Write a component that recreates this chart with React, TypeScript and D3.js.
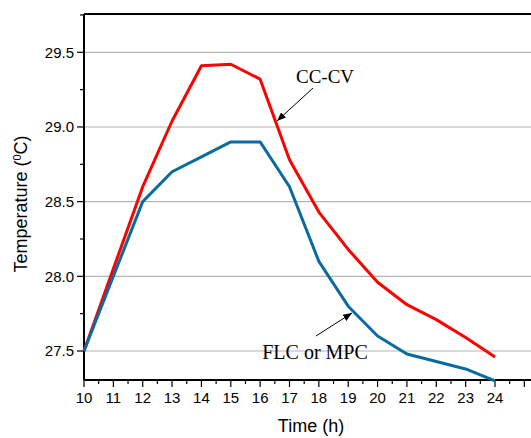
import React from "react";
import * as d3 from "d3";

const hours = [10, 11, 12, 13, 14, 15, 16, 17, 18, 19, 20, 21, 22, 23, 24];
const ccCv = [27.5, 28.05, 28.6, 29.04, 29.41, 29.42, 29.32, 28.78, 28.43, 28.18, 27.96, 27.81, 27.71, 27.59, 27.46];
const flcMpc = [27.5, 28.0, 28.5, 28.7, 28.8, 28.9, 28.9, 28.6, 28.1, 27.8, 27.6, 27.48, 27.43, 27.38, 27.3];
const xTicks = [10, 11, 12, 13, 14, 15, 16, 17, 18, 19, 20, 21, 22, 23, 24];
const yTicks = [27.5, 28.0, 28.5, 29.0, 29.5];

const W = 531, H = 438;
const left = 84, right = 531, top = 14, bottom = 380;

export default function App() {
  const x = d3.scaleLinear().domain([10, 24]).range([left, 495]);
  const y = d3.scaleLinear().domain([27.5, 29.5]).range([351, 52.3]);
  const xMinor = d3.range(10, 25.01, 0.5);
  const yMinor = d3.range(27.25, 29.76, 0.25).filter((v) => y(v) <= bottom && y(v) >= top);
  const line = d3.line<number>().x((_, i) => x(hours[i])).y((d) => y(d));
  const sans = "'Liberation Sans', Arial, sans-serif";
  const serif = "'Liberation Serif', 'Times New Roman', serif";
  return (
    <svg width={W} height={H} style={{ position: "absolute", left: 0, top: 0, background: "#fff" }}>
      <defs>
        <marker id="ah" viewBox="0 0 10 10" refX="10" refY="5" markerWidth="9" markerHeight="9" orient="auto" markerUnits="userSpaceOnUse">
          <path d="M0,1 L10,5 L0,9 Z" fill="#000" />
        </marker>
      </defs>
      {yTicks.map((t) => (
        <line key={"g" + t} x1={left} x2={right} y1={y(t)} y2={y(t)} stroke="#b4b4b4" strokeWidth={1.2} />
      ))}
      <line x1={left} x2={right} y1={top} y2={top} stroke="#000" strokeWidth={2} />
      <line x1={left} x2={left} y1={top} y2={bottom} stroke="#000" strokeWidth={2} />
      <line x1={left} x2={right} y1={bottom} y2={bottom} stroke="#000" strokeWidth={2} />
      {yMinor.map((t) => {
        const major = yTicks.some((m) => Math.abs(m - t) < 1e-6);
        return <line key={"yt" + t} x1={left - (major ? 7 : 4)} x2={left} y1={y(t)} y2={y(t)} stroke="#000" strokeWidth={1.2} />;
      })}
      {xMinor.map((t) => {
        const major = Math.abs(t - Math.round(t)) < 1e-6;
        return <line key={"xt" + t} x1={x(t)} x2={x(t)} y1={bottom} y2={bottom + (major ? 7 : 4)} stroke="#000" strokeWidth={1.2} />;
      })}
      {yTicks.map((t) => (
        <text key={"yl" + t} x={left - 10} y={y(t)} dy="0.35em" textAnchor="end" fontFamily={sans} fontSize={15} fill="#000">
          {t.toFixed(1)}
        </text>
      ))}
      {xTicks.map((t) => (
        <text key={"xl" + t} x={x(t)} y={bottom + 23} textAnchor="middle" fontFamily={sans} fontSize={15} fill="#000">
          {t}
        </text>
      ))}
      <path d={line(ccCv) || ""} fill="none" stroke="#ff0000" strokeWidth={3} strokeLinejoin="round" />
      <path d={line(flcMpc) || ""} fill="none" stroke="#0b6aa2" strokeWidth={3} strokeLinejoin="round" />
      <text x={325} y={83} textAnchor="middle" fontFamily={serif} fontSize={19} fill="#000">CC-CV</text>
      <line x1={313} x2={277} y1={88} y2={121} stroke="#000" strokeWidth={1} markerEnd="url(#ah)" />
      <text x={315} y={359} textAnchor="middle" fontFamily={serif} fontSize={20} fill="#000">FLC or MPC</text>
      <line x1={316} x2={352} y1={336} y2={313} stroke="#000" strokeWidth={1} markerEnd="url(#ah)" />
      <text x={311} y={432} textAnchor="middle" fontFamily={sans} fontSize={18} fill="#000">Time (h)</text>
      <text transform={`translate(27,204) rotate(-90)`} textAnchor="middle" fontFamily={sans} fontSize={18} fill="#000">
        Temperature (<tspan baselineShift="super" fontSize={11}>0</tspan>C)
      </text>
    </svg>
  );
}
